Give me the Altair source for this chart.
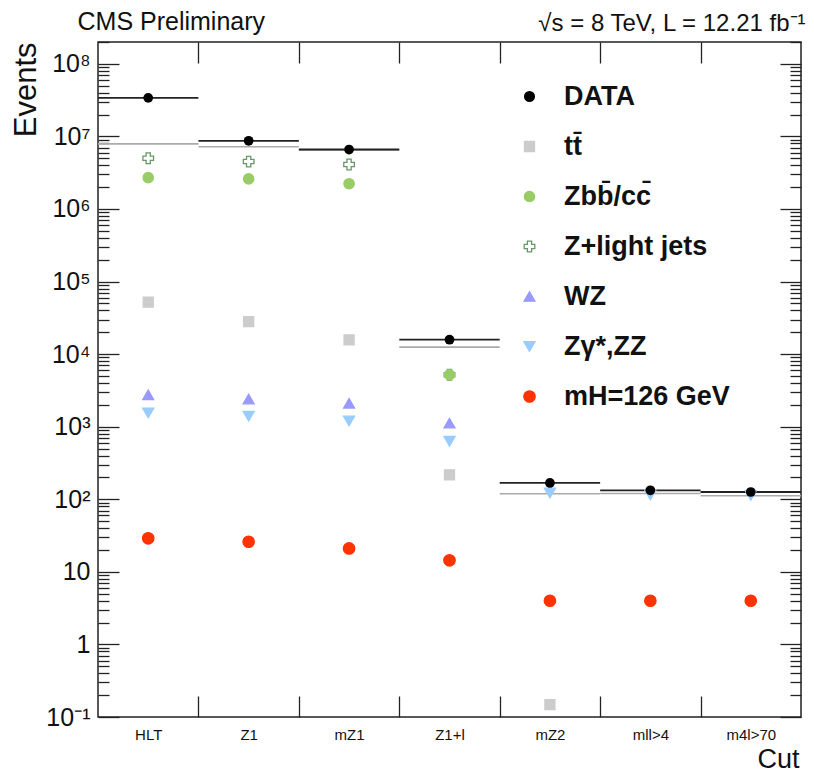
import altair as alt
import pandas as pd

# ---------------- data ----------------
cuts = ["HLT", "Z1", "mZ1", "Z1+l", "mZ2", "mll>4", "m4l>70"]
data_vals = [3.4e7, 8.7e6, 6.6e6, 1.58e4, 168, 133, 126]
mc_total = [7.9e6, 7.2e6, 6.5e6, 1.25e4, 119, 120, 112]
ttbar = [5.2e4, 2.8e4, 1.57e4, 217, 0.148, None, None]
zbb = [2.7e6, 2.6e6, 2.23e6, 5.2e3, None, None, None]
zlight = [5.0e6, 4.5e6, 4.1e6, 5.2e3, None, None, None]
wz = [2.75e3, 2.4e3, 2.1e3, 1.12e3, None, None, None]
zz = [1.55e3, 1.4e3, 1.2e3, 630, 122, 115, 113]
higgs = [29, 26, 21, 14.4, 4.0, 4.0, 4.0]

series_names = ["DATA", "tt\u0304", "Zbb\u0304/cc\u0304", "Z+light jets", "WZ",
                "Z\u03b3*,ZZ", "mH=126 GeV"]
series_shapes = ["circle", "square", "circle", "cross", "triangle-up",
                 "triangle-down", "circle"]
series_fill = ["#000000", "#cccccc", "#99cc66", "#ffffff", "#9999ff",
               "#99ccff", "#ff3300"]
series_stroke = ["#000000", "#cccccc", "#99cc66", "#669966", "#9999ff",
                 "#99ccff", "#ff3300"]
series_size = [95, 130, 100, 190, 120, 120, 75]

y_exps = [-1, 0, 1, 2, 3, 4, 5, 6, 7, 8]
sup = {"-": "\u207b", "0": "\u2070", "1": "\u00b9", "2": "\u00b2", "3": "\u00b3",
       "4": "\u2074", "5": "\u2075", "6": "\u2076", "7": "\u2077", "8": "\u2078",
       "9": "\u2079"}

# ---------------- tables ----------------
n = len(cuts)
bins = pd.DataFrame({
    "cut": cuts,
    "lo": list(range(n)),
    "hi": [i + 1 for i in range(n)],
    "center": [i + 0.5 for i in range(n)],
    "data": data_vals,
    "mc": mc_total,
})

# drawing order: Z+light jets below Zbb (they overlap at Z1+l)
draw_order = [("Z+light jets", zlight), ("tt\u0304", ttbar), ("Zbb\u0304/cc\u0304", zbb),
              ("WZ", wz), ("Z\u03b3*,ZZ", zz), ("mH=126 GeV", higgs)]
rows = []
for name, vals in draw_order:
    for i, v in enumerate(vals):
        if v is not None:
            rows.append({"series": name, "center": i + 0.5, "value": v})
pts = pd.DataFrame(rows)

W, H = 703, 675
FONT = "Liberation Sans"
XDOM = [0, n]
YDOM = [0.1, 2e8]

xs = alt.Scale(domain=XDOM, nice=False, zero=False)
ys = alt.Scale(type="log", domain=YDOM, nice=False)

def sup_str(e):
    return "".join(sup[c] for c in str(e))

ylab = "''"
for e in reversed(y_exps):
    lab = "1" if e == 0 else ("10" if e == 1 else "10" + sup_str(e))
    ylab = f"round(log(datum.value)/LN10)=={e} ? '{lab}' : " + ylab
xlab = "[" + ",".join(f"'{c}'" for c in cuts) + "][floor(datum.value)]"

tick_vals = []
for e in range(-1, 9):
    for m in range(1, 10):
        v = float(f"{m}e{e}")
        if v <= YDOM[1]:
            tick_vals.append(v)
major_test = "abs(log(datum.value)/LN10 - round(log(datum.value)/LN10)) < 0.0001"
ytick_size = {"condition": {"test": major_test, "value": 21}, "value": 11}

common_tick = dict(domain=False, labels=False, grid=False,
                   tickColor="#222222", tickWidth=1.3)

# x axes
x_labels_axis = alt.Axis(orient="bottom", values=[i + 0.5 for i in range(n)],
                         labelExpr=xlab, ticks=False, domain=False, grid=False,
                         labelFont=FONT, labelFontSize=15, labelColor="#111111",
                         labelPadding=10, title="Cut", titleFont=FONT,
                         titleFontSize=27, titleFontWeight="normal",
                         titleAnchor="end", titleAlign="right", titleX=W - 2,
                         titleY=56, titleBaseline="bottom", titleColor="#111111")
x_ticks_bottom = alt.Axis(orient="top", offset=-H, values=list(range(1, n)),
                          tickSize=21, title=None, **common_tick)
x_ticks_top = alt.Axis(orient="bottom", offset=-H, values=list(range(1, n)),
                       tickSize=21, title=None, **common_tick)
x_title_top = alt.Axis(orient="top", ticks=False, labels=False, domain=False,
                       grid=False, title="\u221as = 8 TeV, L = 12.21 fb\u207b\u00b9",
                       titleFont=FONT, titleFontSize=24, titleFontWeight="normal",
                       titleAnchor="end", titleAlign="right", titleX=W + 4,
                       titleY=-12, titleBaseline="alphabetic", titleColor="#111111")

# y axes
y_labels_axis = alt.Axis(orient="left", values=[float(f"1e{e}") for e in y_exps],
                         labelExpr=ylab, ticks=False, domain=False, grid=False,
                         labelFont=FONT, labelFontSize=25, labelColor="#111111",
                         labelPadding=8, title="Events", titleFont=FONT,
                         titleFontSize=31, titleFontWeight="normal",
                         titleAngle=270, titleAnchor="end", titleAlign="right",
                         titleX=-56, titleY=0, titleBaseline="bottom",
                         titleColor="#111111")
# inner ticks on the left edge; its title carries the experiment header
y_ticks_left = alt.Axis(orient="right", offset=-W, values=tick_vals,
                        tickSize=ytick_size, title="CMS Preliminary",
                        titleFont=FONT, titleFontSize=25, titleFontWeight="normal",
                        titleAngle=0, titleX=-21, titleY=-13, titleAlign="left",
                        titleBaseline="alphabetic", titleColor="#111111",
                        **common_tick)
y_ticks_right = alt.Axis(orient="left", offset=-W, values=tick_vals,
                         tickSize=ytick_size, title=None, **common_tick)

# ---------------- layers ----------------
mc_rules = alt.Chart(bins).mark_rule(color="#aaaaaa", strokeWidth=1.6).encode(
    x=alt.X("lo:Q", scale=xs, axis=x_labels_axis),
    x2="hi:Q",
    y=alt.Y("mc:Q", scale=ys, axis=y_labels_axis),
)

data_rules = alt.Chart(bins).mark_rule(color="#222222", strokeWidth=1.8).encode(
    x=alt.X("lo:Q", scale=xs, axis=x_ticks_bottom),
    x2="hi:Q",
    y=alt.Y("data:Q", scale=ys, axis=y_ticks_left),
)

legend = alt.Legend(title=None, orient="none", legendX=418, legendY=41,
                    labelFont=FONT, labelFontWeight="bold", labelFontSize=27,
                    labelColor="#111111", rowPadding=22, labelOffset=21,
                    labelLimit=400, padding=0, symbolStrokeWidth=1.3,
                    symbolOpacity=1)

mc_points = alt.Chart(pts).mark_point(filled=True, opacity=1, strokeWidth=1.3).encode(
    x=alt.X("center:Q", scale=xs, axis=x_ticks_top),
    y=alt.Y("value:Q", scale=ys, axis=y_ticks_right),
    shape=alt.Shape("series:N", scale=alt.Scale(domain=series_names, range=series_shapes),
                    legend=legend),
    fill=alt.Fill("series:N", scale=alt.Scale(domain=series_names, range=series_fill),
                  legend=legend),
    stroke=alt.Stroke("series:N", scale=alt.Scale(domain=series_names, range=series_stroke),
                      legend=legend),
    size=alt.Size("series:N", scale=alt.Scale(domain=series_names, range=series_size),
                  legend=legend),
)

data_points = alt.Chart(bins).mark_point(filled=True, opacity=1, shape="circle",
                                         color="#000000", size=95).encode(
    x=alt.X("center:Q", scale=xs, axis=x_title_top),
    y=alt.Y("data:Q", scale=ys, axis=None),
)

chart = alt.layer(mc_rules, data_rules, mc_points, data_points).resolve_axis(
    x="independent", y="independent"
).properties(
    width=W, height=H,
    autosize=alt.AutoSizeParams(type="none"),
    padding={"left": 90, "top": 34, "right": 5, "bottom": 58},
    background="white",
).configure_view(stroke="#222222", strokeWidth=1.5)

chart.save("out.html", embed_options={"renderer": "svg", "actions": False})
